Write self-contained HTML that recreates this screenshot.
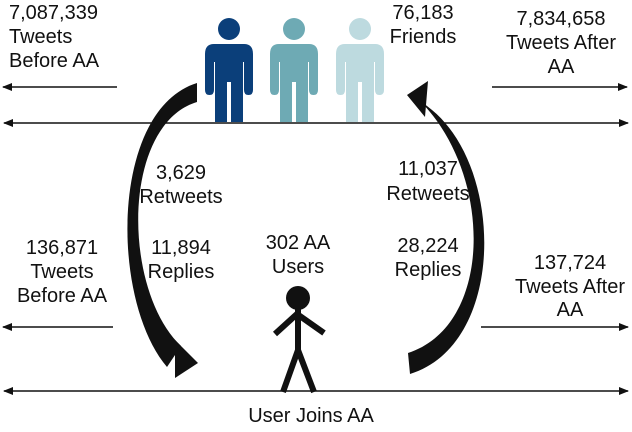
<!DOCTYPE html>
<html><head><meta charset="utf-8"><style>
html,body{margin:0;padding:0;background:#fff;}
svg{display:block;}
text{font-family:"Liberation Sans",Arial,sans-serif;font-size:20px;fill:#111;}
</style></head><body>
<svg width="632" height="432" viewBox="0 0 632 432">
<defs>
<marker id="ah" markerWidth="10" markerHeight="8" refX="9" refY="4" orient="auto" markerUnits="userSpaceOnUse">
<path d="M0,0 L10,4 L0,8 Z" fill="#111"/></marker>
<marker id="ahs" markerWidth="10" markerHeight="8" refX="1" refY="4" orient="auto" markerUnits="userSpaceOnUse">
<path d="M10,0 L0,4 L10,8 Z" fill="#111"/></marker>
<g id="person">
<circle cx="24" cy="11" r="11"/>
<path d="M9,26 Q0,26 0,36 L0,72 Q0,77 4.5,77 Q9,77 9,72 L9,44 L10,44 L10,104 L22,104 L22,64 L26,64 L26,104 L38,104 L38,44 L39,44 L39,72 Q39,77 43.5,77 Q48,77 48,72 L48,36 Q48,26 39,26 Z"/>
</g>
</defs>

<use href="#person" x="205" y="18" fill="#0b3f7a"/>
<use href="#person" x="270" y="18" fill="#6eaab4"/>
<use href="#person" x="336" y="18" fill="#bddadf"/>

<line x1="4" y1="123" x2="628" y2="123" stroke="#111" stroke-width="1.5" marker-start="url(#ahs)" marker-end="url(#ah)"/>
<line x1="4" y1="391" x2="628" y2="391" stroke="#111" stroke-width="1.5" marker-start="url(#ahs)" marker-end="url(#ah)"/>
<line x1="117" y1="87" x2="3" y2="87" stroke="#111" stroke-width="1.5" marker-end="url(#ah)"/>
<line x1="492" y1="87" x2="627" y2="87" stroke="#111" stroke-width="1.5" marker-end="url(#ah)"/>
<line x1="113" y1="327" x2="3" y2="327" stroke="#111" stroke-width="1.5" marker-end="url(#ah)"/>
<line x1="481" y1="327" x2="628" y2="327" stroke="#111" stroke-width="1.5" marker-end="url(#ah)"/>

<g fill="#111">
<path d="M197,83 C110,110 110,300 167,367 L181,346 C122,290 121,125 197,102 Z"/>
<path d="M175,340 L198,363 L175,378 Z"/>
</g>
<g fill="#111">
<path d="M410,374 C505,345 505,170 432,110 L417,98 C493,170 495,325 408,353 Z"/>
<path d="M407,95 L428,81 L425,117 Z"/>
</g>

<g stroke="#111" stroke-width="6" fill="none" stroke-linecap="butt">
<circle cx="298" cy="298" r="12" fill="#111" stroke="none"/>
<line x1="298" y1="309" x2="298" y2="352"/>
<polyline points="275,334 297,314 324,333"/>
<polyline points="283,392 298,350 314,392"/>
</g>

<g>
<text x="9" y="19">7,087,339</text><text x="9" y="43">Tweets</text><text x="9" y="67">Before AA</text></g>
<g text-anchor="middle">
<text x="423" y="19">76,183</text><text x="423" y="43">Friends</text></g>
<g text-anchor="middle">
<text x="561" y="25">7,834,658</text><text x="561" y="49">Tweets After</text><text x="561" y="73">AA</text></g>
<g text-anchor="middle">
<text x="181" y="179">3,629</text><text x="181" y="203">Retweets</text></g>
<g text-anchor="middle">
<text x="181" y="254">11,894</text><text x="181" y="278">Replies</text></g>
<g text-anchor="middle">
<text x="298" y="249">302 AA</text><text x="298" y="273">Users</text></g>
<g text-anchor="middle">
<text x="428" y="175">11,037</text><text x="428" y="200">Retweets</text></g>
<g text-anchor="middle">
<text x="428" y="252">28,224</text><text x="428" y="276">Replies</text></g>
<g text-anchor="middle">
<text x="62" y="254">136,871</text><text x="62" y="278">Tweets</text><text x="62" y="302">Before AA</text></g>
<g text-anchor="middle">
<text x="570" y="269">137,724</text><text x="570" y="293">Tweets After</text><text x="570" y="316">AA</text></g>
<text x="311" y="422" text-anchor="middle">User Joins AA</text>
</svg>
</body></html>
